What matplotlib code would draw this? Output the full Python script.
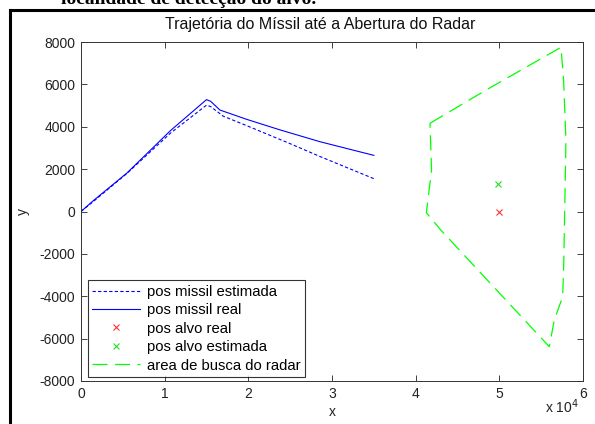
import matplotlib
matplotlib.use("Agg")
import matplotlib.pyplot as plt
from matplotlib.lines import Line2D

plt.rcParams['font.family'] = ['Liberation Sans', 'DejaVu Sans']
plt.rcParams['axes.unicode_minus'] = False

# ---- data (x in metres, y in metres) ----
est_x = [0, 1500, 5500, 10700, 15000, 15500, 17000, 20000, 25000, 28600, 35000]
est_y = [0, 480, 1800, 3700, 5020, 4950, 4500, 4020, 3200, 2590, 1550]

real_x = [0, 1500, 5500, 10700, 15000, 15500, 16600, 19800, 23800, 28600, 35000]
real_y = [0, 520, 1820, 3820, 5280, 5200, 4790, 4350, 3850, 3290, 2650]

alvo_real = (50000, 0)
alvo_est = (49800, 1300)

radar_x = [41710, 48420, 57370, 57680, 57960, 57880, 57700, 57570, 56570, 55970, 43000, 41280, 41900, 41710]
radar_y = [4162, 5734, 7749, 6206, 3374, 1487, -2446, -4020, -5120, -6380, -873, -57, 1958, 4162]

xticks = [0, 10000, 20000, 30000, 40000, 50000, 60000]
xticklabels = ['0', '1', '2', '3', '4', '5', '6']
yticks = [-8000, -6000, -4000, -2000, 0, 2000, 4000, 6000, 8000]

title = 'Trajetória do Míssil até a Abertura do Radar'
labels = ['pos missil estimada', 'pos missil real', 'pos alvo real',
          'pos alvo estimada', 'area de busca do radar']

W, H = 595, 424
fig = plt.figure(figsize=(W / 100, H / 100), dpi=100)
ax = fig.add_axes([81 / W, 1 - 381 / H, 502 / W, 339 / H])

ax.plot(est_x, est_y, color='#0000ff', lw=0.8, dashes=(3, 2), label=labels[0])
ax.plot(real_x, real_y, color='#0000ff', lw=0.8, label=labels[1])
ax.plot([alvo_real[0]], [alvo_real[1]], ls='none', marker='x', ms=4.5, mew=0.8,
        color='#ff3030', label=labels[2])
ax.plot([alvo_est[0]], [alvo_est[1]], ls='none', marker='x', ms=4.5, mew=0.8,
        color='#20e020', label=labels[3])
ax.plot(radar_x, radar_y, color='#00ff00', lw=0.9, dashes=(12, 6), label=labels[4])

ax.set_xlim(0, 60000)
ax.set_ylim(-8000, 8000)
ax.set_xticks(xticks)
ax.set_xticklabels(xticklabels)
ax.set_yticks(yticks)
ax.tick_params(direction='in', length=4, width=0.6, top=True, right=True,
               labelsize=10, colors='#222222', pad=4)
for s in ax.spines.values():
    s.set_linewidth(0.7)
    s.set_color('#333333')

ax.set_title(title, fontsize=11.5, pad=9, color='#111111', x=0.476)
ax.set_xlabel('x', fontsize=10, labelpad=3, color='#222222')
ax.set_ylabel('y', fontsize=10, color='#222222')
ax.yaxis.set_label_coords((30 - 81) / 502, 0.5)
fig.text(545 / W, 1 - 413 / H, r'x 10$^4$', fontsize=10, color='#222222',
         va='baseline', ha='left')

leg = ax.legend(loc='lower left', bbox_to_anchor=(7 / 502, 4 / 339), borderaxespad=0,
                fontsize=10.7, frameon=True, fancybox=False, handlelength=3.2,
                handletextpad=0.45, labelspacing=0.3, borderpad=0.3)
leg.get_frame().set_edgecolor('#000000')
leg.get_frame().set_linewidth(0.8)

# document frame and clipped caption text (cut off at the top, as in the source page)
fig.add_artist(Line2D([9.5 / W, 9.5 / W], [0, 1 - 9.5 / H], transform=fig.transFigure,
                      color='black', lw=2.2))
fig.add_artist(Line2D([9.5 / W, 1], [1 - 10 / H, 1 - 10 / H], transform=fig.transFigure,
                      color='black', lw=2.2))
fig.text(316 / W, 1 - 4 / H, 'localidade de detecção do alvo.', fontsize=14,
         family='Liberation Serif', weight='bold', ha='right', va='baseline')

fig.savefig('out.png', dpi=100)
